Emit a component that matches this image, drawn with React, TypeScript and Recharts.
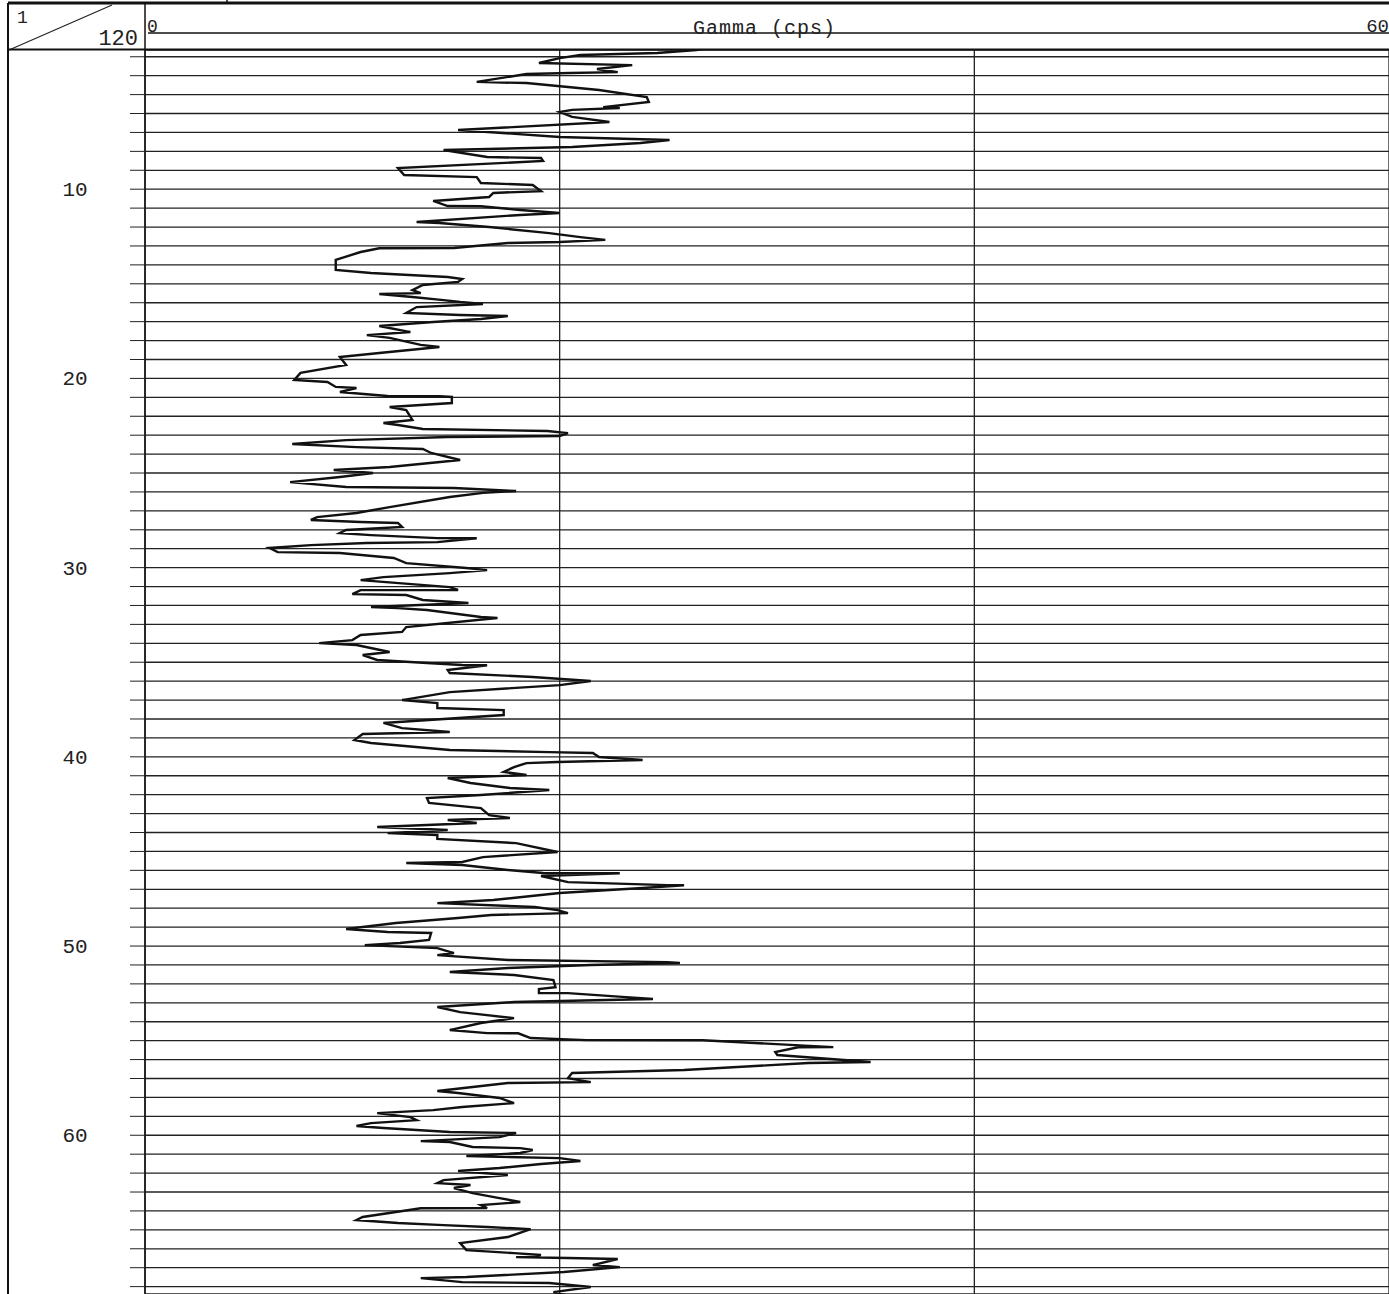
import { LineChart, Line, XAxis, YAxis, CartesianGrid } from "recharts";

const depth = [
  2.48, 2.64, 2.8, 2.91, 3.07, 3.33, 3.44, 3.65, 3.81, 3.86, 3.91, 4.33, 4.39, 4.76, 5.13, 5.39, 5.66, 5.71, 5.81, 5.92,
  6.18, 6.45, 6.87, 7.24, 7.4, 7.56, 7.77, 7.93, 8.3, 8.35, 8.51, 8.88, 9.25, 9.36, 9.67, 9.78, 10.1, 10.2, 10.41, 10.62,
  10.89, 10.9, 11.1, 11.26, 11.36, 11.73, 11.79, 12.0, 12.32, 12.53, 12.68, 12.79, 12.84, 13.11, 13.12, 13.32, 13.74, 14.27, 14.43, 14.64,
  14.75, 14.9, 15.06, 15.33, 15.49, 15.54, 15.7, 15.86, 15.96, 16.07, 16.23, 16.54, 16.65, 16.7, 16.86, 17.02, 17.23, 17.55, 17.71, 17.86,
  18.23, 18.34, 18.66, 18.87, 19.29, 19.71, 20.08, 20.19, 20.45, 20.51, 20.72, 20.93, 20.94, 20.98, 21.3, 21.51, 21.67, 22.2, 22.36, 22.46,
  22.67, 22.78, 22.89, 23.04, 23.1, 23.26, 23.47, 23.63, 23.73, 23.94, 24.31, 24.68, 24.84, 25.0, 25.21, 25.48, 25.74, 25.79, 25.95, 26.05,
  26.27, 26.8, 27.11, 27.33, 27.48, 27.59, 27.64, 27.85, 28.01, 28.17, 28.28, 28.44, 28.45, 28.65, 28.7, 28.81, 28.96, 29.18, 29.23, 29.49,
  29.76, 30.02, 30.13, 30.29, 30.5, 30.66, 31.03, 31.18, 31.19, 31.4, 31.45, 31.71, 31.87, 32.08, 32.14, 32.24, 32.61, 32.66, 33.14, 33.4,
  33.56, 33.83, 33.99, 34.09, 34.46, 34.62, 34.88, 35.04, 35.15, 35.16, 35.41, 35.57, 35.78, 35.99, 36.21, 36.58, 37.0, 37.16, 37.42, 37.53,
  37.79, 38.21, 38.48, 38.69, 38.79, 39.11, 39.27, 39.64, 39.75, 39.8, 40.01, 40.17, 40.27, 40.33, 40.54, 40.8, 40.96, 41.12, 41.38, 41.65,
  41.75, 42.02, 42.18, 42.44, 42.71, 43.08, 43.23, 43.34, 43.5, 43.71, 43.87, 44.03, 44.13, 44.34, 44.56, 45.03, 45.3, 45.56, 45.61, 45.72,
  45.98, 46.14, 46.15, 46.3, 46.62, 46.78, 46.79, 46.93, 47.2, 47.57, 47.73, 47.94, 48.1, 48.26, 48.36, 48.52, 48.78, 49.1, 49.26, 49.31,
  49.68, 49.84, 49.95, 50.11, 50.37, 50.48, 50.74, 50.85, 50.9, 51.0, 51.16, 51.37, 51.53, 51.8, 52.17, 52.27, 52.48, 52.49, 52.7, 52.8,
  52.96, 53.22, 53.49, 53.81, 54.07, 54.44, 54.6, 54.61, 54.86, 54.97, 54.98, 55.34, 55.35, 55.6, 55.76, 56.13, 56.18, 56.55, 56.71, 56.98,
  57.19, 57.24, 57.66, 57.77, 58.03, 58.3, 58.51, 58.67, 58.83, 59.04, 59.2, 59.36, 59.51, 59.62, 59.83, 59.88, 60.1, 60.31, 60.36, 60.62,
  60.68, 60.78, 60.94, 61.1, 61.21, 61.36, 61.52, 61.73, 61.89, 62.1, 62.37, 62.53, 62.63, 62.79, 63.06, 63.32, 63.53, 63.69, 63.85, 63.86,
  64.32, 64.48, 64.64, 64.75, 64.85, 64.96, 65.38, 65.7, 66.07, 66.23, 66.33, 66.44, 66.49, 66.54, 66.86, 66.97, 67.23, 67.49, 67.55, 67.76,
  67.81, 68.02, 68.29, 68.5,
];

const gamma = [
  27.3, 26.6, 24.7, 21.0, 20.0, 19.0, 23.5, 21.8, 22.8, 20.5, 18.4, 16.0, 18.4, 21.9, 24.2, 24.3, 22.1, 22.9, 20.6, 20.0,
  20.6, 22.4, 15.1, 20.0, 25.3, 23.9, 20.6, 14.4, 16.5, 19.1, 19.2, 12.2, 12.5, 16.0, 16.2, 18.7, 19.1, 16.8, 16.6, 13.9,
  14.6, 16.2, 18.1, 20.0, 18.1, 13.1, 14.2, 16.6, 19.5, 21.0, 22.2, 20.0, 17.5, 14.9, 11.3, 10.4, 9.2, 9.2, 10.9, 14.6,
  15.3, 15.1, 13.4, 12.9, 13.3, 11.3, 12.9, 14.4, 15.2, 16.3, 13.1, 12.6, 15.2, 17.5, 16.2, 13.9, 11.3, 12.8, 10.7, 11.8,
  13.3, 14.2, 11.3, 9.4, 9.7, 7.5, 7.2, 8.8, 9.2, 10.2, 9.4, 11.7, 14.2, 14.8, 14.8, 11.8, 12.6, 12.9, 11.5, 12.2,
  13.4, 19.4, 20.4, 20.0, 14.6, 9.7, 7.1, 10.2, 13.4, 13.8, 15.2, 11.8, 9.1, 11.0, 9.4, 7.0, 9.7, 14.9, 17.9, 16.3,
  14.7, 11.8, 10.2, 8.3, 8.0, 10.4, 12.2, 12.4, 9.7, 9.4, 10.9, 14.1, 16.0, 14.1, 10.7, 8.0, 6.0, 6.4, 9.4, 12.0,
  12.6, 15.5, 16.5, 14.7, 11.5, 10.4, 14.7, 15.1, 10.4, 10.0, 12.6, 13.4, 15.6, 10.9, 12.2, 13.6, 16.2, 17.0, 12.6, 12.4,
  10.4, 10.0, 8.4, 10.2, 11.8, 10.5, 11.2, 13.6, 15.3, 16.5, 14.6, 14.7, 18.7, 21.5, 20.0, 14.7, 12.4, 14.1, 14.1, 17.3,
  17.3, 11.5, 12.4, 14.7, 10.5, 10.1, 10.9, 14.7, 19.5, 21.6, 21.9, 24.0, 19.9, 18.4, 17.8, 17.3, 18.4, 14.6, 15.7, 17.6,
  19.5, 16.2, 13.6, 13.7, 16.2, 16.6, 17.6, 14.6, 16.0, 11.2, 14.6, 11.7, 14.1, 14.1, 17.9, 19.9, 16.3, 15.3, 12.6, 15.3,
  17.5, 19.2, 22.9, 19.1, 20.4, 25.2, 26.0, 24.0, 20.0, 16.8, 14.1, 18.8, 19.9, 20.4, 16.7, 15.1, 12.1, 9.7, 11.7, 13.8,
  13.7, 12.3, 10.6, 14.1, 14.9, 14.1, 17.5, 25.2, 25.8, 21.5, 17.5, 14.7, 17.8, 19.7, 19.8, 19.0, 19.0, 20.4, 23.2, 24.5,
  17.8, 14.1, 15.2, 17.8, 16.2, 14.7, 16.5, 18.0, 18.6, 21.3, 26.9, 33.2, 31.5, 30.4, 30.5, 35.0, 32.0, 26.0, 20.6, 20.4,
  21.5, 17.5, 14.1, 15.1, 17.1, 17.8, 15.3, 13.9, 11.2, 12.8, 13.1, 10.9, 10.2, 11.5, 14.7, 17.9, 17.1, 13.3, 14.7, 15.8,
  18.1, 18.7, 18.1, 15.5, 20.0, 21.0, 19.1, 17.1, 15.1, 17.5, 14.4, 14.1, 15.7, 14.9, 15.8, 17.1, 18.1, 16.2, 16.5, 13.3,
  10.5, 10.2, 12.2, 14.4, 16.5, 18.6, 17.5, 15.2, 15.5, 17.8, 19.1, 17.9, 20.4, 22.8, 21.6, 22.9, 20.2, 15.5, 13.3, 15.3,
  19.5, 21.5, 19.7, 20.5,
];

const gammaTicks = [0, 20, 40, 60];
const depthTicks = Array.from({ length: 66 }, (_, i) => i + 3);

const data = depth.map((d, i) => ({ depth: d, gamma: gamma[i] }));

const FONT = "'Liberation Mono', 'DejaVu Sans Mono', monospace";

function DepthTick(props: any) {
  const { y, payload } = props;
  if (payload.value % 10 !== 0) return <g />;
  return (
    <text x={75} y={y + 7} textAnchor="middle" fontFamily={FONT} fontSize={21} fill="#222">
      {payload.value}
    </text>
  );
}

export default function App() {
  return (
    <div style={{ position: "relative", width: 1389, height: 1294, background: "#fff" }}>
      <style>{`body{margin:0;overflow:hidden}`}</style>
      <LineChart
        width={1389}
        height={1294}
        data={data}
        layout="vertical"
        margin={{ top: 50, right: 0, bottom: 0, left: 0 }}
      >
        <CartesianGrid stroke="#222" strokeWidth={1.3} />
        <XAxis type="number" dataKey="gamma" domain={[0, 60]} ticks={gammaTicks} hide />
        <YAxis
          type="number"
          dataKey="depth"
          domain={[2.643, 68.39]}
          allowDataOverflow
          ticks={depthTicks}
          interval={0}
          width={145}
          tickSize={15}
          tickLine={{ stroke: "#222" }}
          axisLine={{ stroke: "#111", strokeWidth: 1.5 }}
          tick={<DepthTick />}
        />
        <Line
          type="linear"
          dataKey="gamma"
          stroke="#111"
          strokeWidth={2.4}
          dot={false}
          isAnimationActive={false}
        />
      </LineChart>

      <svg
        width={1389}
        height={1294}
        style={{ position: "absolute", left: 0, top: 0, pointerEvents: "none" }}
      >
        <rect x={0} y={0} width={1389} height={49} fill="#fff" />
        <line x1={8} y1={3} x2={1389} y2={3} stroke="#111" strokeWidth={3} />
        <line x1={227} y1={0} x2={227} y2={4} stroke="#111" strokeWidth={1.5} />
        <line x1={8} y1={3} x2={8} y2={1294} stroke="#111" strokeWidth={2} />
        <line x1={145} y1={3} x2={145} y2={50} stroke="#111" strokeWidth={1.5} />
        <line x1={9} y1={50} x2={112} y2={5} stroke="#222" strokeWidth={1.2} />
        <line x1={8} y1={49.5} x2={1389} y2={49.5} stroke="#111" strokeWidth={2} />
        <line x1={148} y1={33} x2={1389} y2={33} stroke="#111" strokeWidth={1.5} />
        <text x={17} y={23} fontFamily={FONT} fontSize={18} fill="#222">1</text>
        <text x={138} y={45} textAnchor="end" fontFamily={FONT} fontSize={22} fill="#222">120</text>
        <text x={147} y={32} fontFamily={FONT} fontSize={18} fill="#222">0</text>
        <text x={1389} y={32} textAnchor="end" fontFamily={FONT} fontSize={19} fill="#222">60</text>
        <text x={693} y={34} fontFamily={FONT} fontSize={20} fill="#222" textLength={142} lengthAdjust="spacing">
          Gamma (cps)
        </text>
      </svg>
    </div>
  );
}
